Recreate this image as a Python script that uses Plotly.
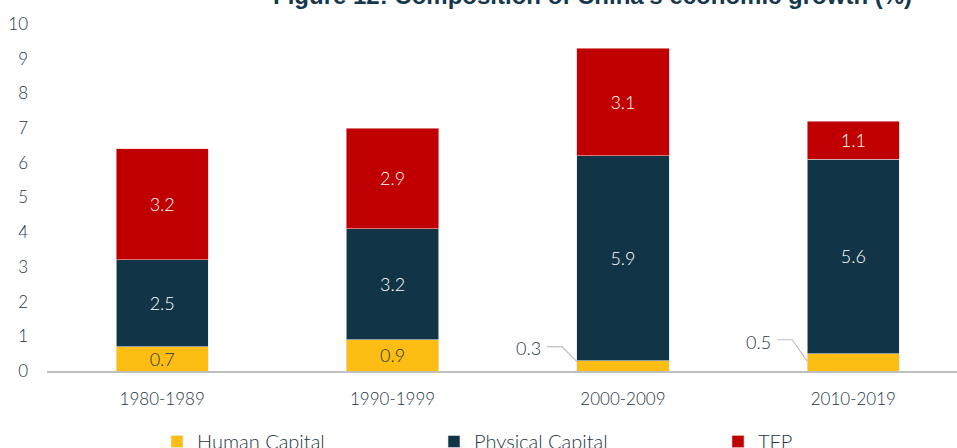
import plotly.graph_objects as go

periods = ["1980-1989", "1990-1999", "2000-2009", "2010-2019"]
human_capital = [0.7, 0.9, 0.3, 0.5]
physical_capital = [2.5, 3.2, 5.9, 5.6]
tfp = [3.2, 2.9, 3.1, 1.1]
y_ticks = [0, 1, 2, 3, 4, 5, 6, 7, 8, 9, 10]

title_text = "Figure 12: Composition of China's economic growth (%)"

C_YEL = "#FDBD12"
C_NAVY = "#113446"
C_RED = "#C00000"
C_TXT = "#1D3544"
FONT = "Lato, 'Noto Sans', sans-serif"

W, H = 957, 448
ML, MR, MT, MB = 47, 0, 24, 77
BAR_W = 0.4
SMALL = 0.6  # below this the label goes outside with a leader line

fig = go.Figure()

hc_text = [f"{v:.1f}" if v >= SMALL else "" for v in human_capital]
fig.add_trace(go.Bar(
    name="Human Capital", x=list(range(len(periods))), y=human_capital,
    marker=dict(color=C_YEL, line=dict(color="#e6e6e6", width=0.6)),
    width=BAR_W, text=hc_text, textposition="inside", insidetextanchor="middle",
    textfont=dict(color=C_TXT, size=18, family=FONT, weight=300), hoverinfo="skip",
    legend="legend",
))
fig.add_trace(go.Bar(
    name="Physical Capital", x=list(range(len(periods))), y=physical_capital,
    marker=dict(color=C_NAVY, line=dict(color="#e6e6e6", width=0.6)),
    width=BAR_W, text=[f"{v:.1f}" for v in physical_capital], textposition="inside",
    insidetextanchor="middle", textfont=dict(color="white", size=18, family=FONT, weight=300),
    hoverinfo="skip", legend="legend2",
))
fig.add_trace(go.Bar(
    name="TFP", x=list(range(len(periods))), y=tfp,
    marker=dict(color=C_RED, line=dict(color="#f2c0c0", width=0.6)),
    width=BAR_W, text=[f"{v:.1f}" for v in tfp], textposition="inside",
    insidetextanchor="middle", textfont=dict(color="white", size=18, family=FONT, weight=300),
    hoverinfo="skip", legend="legend3",
))

annotations = []
for i, v in enumerate(human_capital):
    if v < SMALL:
        ly = v + 0.4
        fig.add_trace(go.Scatter(
            x=[i - 0.33, i - 0.265, i - BAR_W / 2],
            y=[ly, ly, v * 0.55 if v > 0.4 else v * 0.9],
            mode="lines", line=dict(color="#BFBFBF", width=1.2),
            showlegend=False, hoverinfo="skip",
        ))
        annotations.append(dict(
            x=i - 0.41, y=ly - 0.05, xref="x", yref="y", text=f"{v:.1f}",
            showarrow=False, xanchor="center", yanchor="middle",
            font=dict(color=C_TXT, size=18, family=FONT, weight=300),
        ))

annotations.append(dict(
    x=(592 - ML) / (W - ML - MR), y=1 + (MT + 4) / (H - MT - MB),
    xref="paper", yref="paper", text=f"<b>{title_text}</b>",
    showarrow=False, xanchor="center", yanchor="middle",
    font=dict(family="'Liberation Sans', Arial, sans-serif", size=24, color="#17384C"),
))

legend_common = dict(
    orientation="h", xref="container", yref="container", xanchor="left",
    yanchor="top", traceorder="normal", bgcolor="rgba(0,0,0,0)",
    font=dict(size=20, family=FONT, color=C_TXT, weight=300),
    itemclick=False, itemdoubleclick=False,
)
leg_text_x = [197, 474, 758]
leg_y = 1 - 422 / H

fig.update_layout(
    width=W, height=H,
    margin=dict(l=ML, r=MR, t=MT, b=MB, pad=0, autoexpand=False),
    paper_bgcolor="white", plot_bgcolor="white",
    barmode="stack",
    font=dict(family=FONT, color=C_TXT, size=17),
    uniformtext=dict(minsize=18, mode="show"),
    showlegend=True,
    legend=dict(legend_common, x=(leg_text_x[0] - 40) / W, y=leg_y),
    legend2=dict(legend_common, x=(leg_text_x[1] - 40) / W, y=leg_y),
    legend3=dict(legend_common, x=(leg_text_x[2] - 40) / W, y=leg_y),
    annotations=annotations,
)
fig.update_xaxes(
    range=[-0.5, 3.45], tickmode="array", tickvals=list(range(len(periods))),
    ticktext=periods, showgrid=False, zeroline=False,
    showline=True, linecolor="#BFBFBF", linewidth=2,
    ticks="", ticklabelstandoff=12,
    tickfont=dict(size=17, color=C_TXT, family=FONT, weight=300),
    fixedrange=True,
)
fig.update_yaxes(
    range=[0, 10], tickvals=y_ticks, showgrid=False, zeroline=False,
    showline=False, ticks="", ticklabelstandoff=18,
    tickfont=dict(size=17, color=C_TXT, family=FONT, weight=300), fixedrange=True,
)

fig.write_html(
    "out.html", config={"displayModeBar": False},
    post_script="document.body.style.margin='0';document.body.style.overflow='hidden';",
)
